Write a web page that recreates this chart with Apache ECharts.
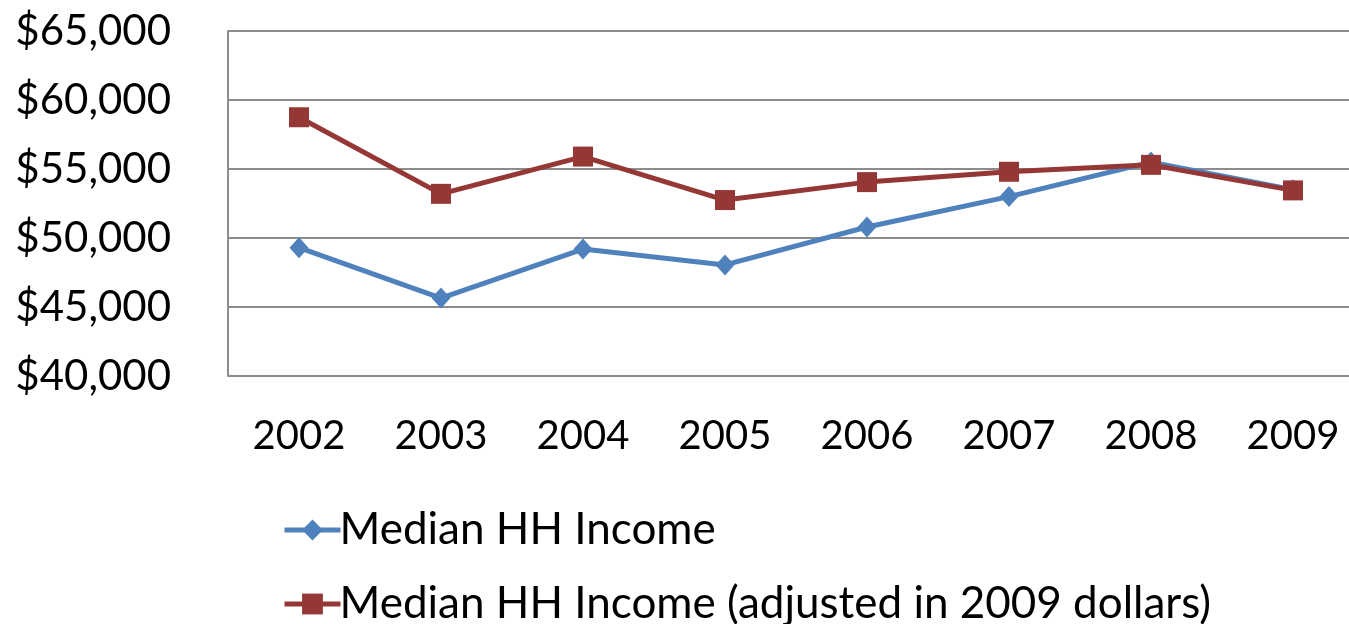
<!DOCTYPE html>
<html><head><meta charset="utf-8">
<script src="https://cdn.jsdelivr.net/npm/echarts@6/dist/echarts.min.js"></script>
<style>html,body{margin:0;padding:0;background:#fff}#c{width:1349px;height:624px}</style>
</head><body><div id="c"></div>
<script>
const years = ['2002','2003','2004','2005','2006','2007','2008','2009'];
const medianIncome = [49300, 45650, 49200, 48050, 50800, 53000, 55500, 53500];
const medianIncomeAdj = [58750, 53200, 55900, 52750, 54050, 54800, 55300, 53450];
const yTicks = {min: 40000, max: 65000, interval: 5000};
const FONT = 'Lato';
const chart = echarts.init(document.getElementById('c'));
chart.setOption({
  animation: false,
  backgroundColor: '#fff',
  grid: {left: 228, top: 31, width: 1136, height: 345, containLabel: false, outerBoundsMode: 'none'},
  xAxis: {
    type: 'category', data: years, boundaryGap: true,
    axisLine: {show: false}, axisTick: {show: false},
    axisLabel: {fontFamily: FONT, fontSize: 40, color: '#000', margin: 40}
  },
  yAxis: {
    type: 'value', min: yTicks.min, max: yTicks.max, interval: yTicks.interval,
    axisLine: {show: true, lineStyle: {color: '#8c8c8c', width: 2}},
    axisTick: {show: false},
    splitLine: {lineStyle: {color: '#8c8c8c', width: 2}},
    axisLabel: {fontFamily: FONT, fontSize: 42, color: '#000', margin: 57,
      formatter: v => '$' + v.toLocaleString('en-US')}
  },
  legend: {
    orient: 'vertical', left: 277, top: 503, height: 121, itemWidth: 56, itemHeight: 26, itemGap: 30,
    lineStyle: {width: 5},
    textStyle: {fontFamily: FONT, fontSize: 44, color: '#000', lineHeight: 42, padding: [0,0,0,-6]},
    data: ['Median HH Income', 'Median HH Income (adjusted in 2009 dollars)']
  },
  series: [
    {name: 'Median HH Income', type: 'line', data: medianIncome,
     symbol: 'diamond', symbolSize: [19, 21], itemStyle: {color: '#4F81BD'},
     lineStyle: {color: '#4F81BD', width: 5}, z: 2},
    {name: 'Median HH Income (adjusted in 2009 dollars)', type: 'line', data: medianIncomeAdj,
     symbol: 'rect', symbolSize: 20, itemStyle: {color: '#953735'},
     lineStyle: {color: '#953735', width: 5}, z: 3}
  ]
});
</script></body></html>
